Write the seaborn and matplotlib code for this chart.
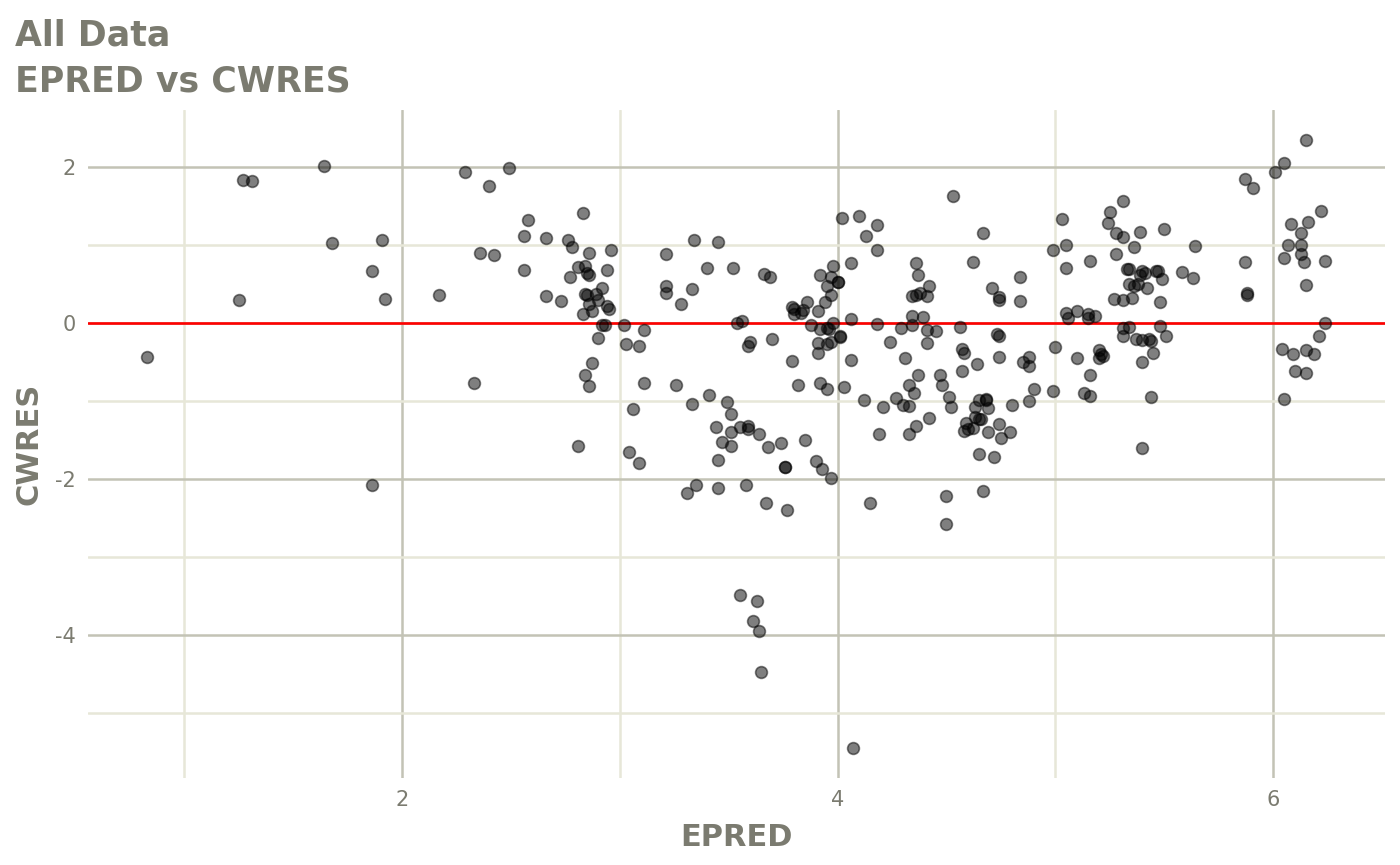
import matplotlib
matplotlib.use("Agg")
import matplotlib.pyplot as plt
import pandas as pd
import seaborn as sns
from matplotlib.ticker import MultipleLocator

# EPRED / CWRES values
epred = [
    0.83, 1.27, 1.31, 1.64, 1.68, 1.91, 1.86, 1.92, 1.25, 1.86,
    2.29, 2.49, 2.40, 2.83, 2.58, 2.56, 2.66, 2.76, 2.78, 2.86,
    2.96, 2.36, 2.42, 3.21, 2.56, 2.81, 2.84, 2.85, 2.86, 2.77,
    2.94, 2.17, 2.66, 2.73, 2.84, 2.85, 2.89, 2.92, 2.86, 2.90,
    2.94, 2.95, 2.83, 2.87, 3.21, 3.21, 3.28, 2.92, 2.93, 3.02,
    3.11, 2.90, 3.03, 3.09,
    2.33, 2.87, 2.84, 2.86, 3.11, 3.26, 3.41, 3.33, 3.06, 3.44,
    3.47, 3.45, 2.81, 3.04, 3.09, 3.35, 3.31, 3.45,
    3.34, 3.45, 3.40, 3.52, 3.66, 3.69, 3.33, 3.98, 4.06, 3.92,
    3.97, 4.00, 4.00, 3.95, 3.97, 3.94, 3.86, 3.79, 3.80, 3.84,
    3.83, 3.80, 3.91, 3.88, 3.92, 3.95, 3.96, 3.98, 4.01, 4.01,
    4.06, 3.91, 3.95, 3.97, 3.91, 4.06, 3.79, 3.54, 3.56, 3.59,
    3.60, 3.70, 3.49, 3.51, 3.82, 3.92, 3.95, 4.03, 4.12, 4.13,
    4.18, 4.10, 4.02, 4.18, 4.18, 4.21,
    3.55, 3.59, 3.59, 3.51, 3.51, 3.64, 3.68, 3.74, 3.85, 3.76,
    3.76, 3.90, 3.93, 3.97, 3.58, 3.67, 3.77, 4.19, 4.15,
    3.55, 3.63, 3.61, 3.64, 3.65, 4.07,
    4.53, 5.03, 4.67, 4.99, 5.05, 4.36, 4.62, 5.16, 5.05, 4.37,
    4.84, 4.42, 4.34, 4.36, 4.38, 4.41, 4.71, 4.74, 4.74, 4.84,
    4.34, 4.39, 4.29, 4.34, 4.41, 4.45, 4.56, 4.24, 4.41, 4.73,
    4.74, 4.57, 5.05, 5.06, 5.10, 5.15, 5.15, 5.18, 5.00,
    4.58, 4.74, 4.31, 4.64, 4.57, 4.85, 4.88, 4.88, 5.10, 5.16,
    4.37, 4.47, 4.48, 4.33, 4.35, 4.27, 4.30, 4.33, 4.51, 4.52,
    4.90, 4.99, 4.88, 4.80, 5.13, 5.16, 4.65, 4.68, 4.68, 4.69,
    4.63, 4.63, 4.65, 4.66, 4.59, 4.58, 4.60, 4.62, 4.42, 4.36,
    4.33, 4.69, 4.74, 4.79, 4.75, 4.65, 4.72, 4.50, 4.67, 4.50,
    5.31, 5.25, 5.24, 5.28, 5.31, 5.39, 5.50, 5.36, 5.64, 5.28,
    5.33, 5.34, 5.40, 5.41, 5.46, 5.47, 5.39, 5.58, 5.63, 5.49,
    5.34, 5.36, 5.38, 5.42, 5.27, 5.31, 5.35, 5.48, 5.31, 5.34,
    5.48, 5.31, 5.37, 5.40, 5.43, 5.44, 5.51, 5.20, 5.21, 5.22,
    5.20, 5.45, 5.40, 5.44, 5.40,
    6.15, 6.05, 6.01, 5.87, 5.91, 6.22, 6.08, 6.16, 6.13, 6.07,
    6.13, 6.13, 6.05, 6.14, 6.24, 5.87, 6.15, 5.88, 5.88, 6.24,
    6.21, 6.04, 6.09, 6.15, 6.19, 6.10, 6.15, 6.05,
]
cwres = [
    -0.44, 1.83, 1.82, 2.01, 1.02, 1.07, 0.67, 0.31, 0.29, -2.07,
    1.94, 1.99, 1.76, 1.41, 1.32, 1.12, 1.09, 1.06, 0.97, 0.90,
    0.93, 0.90, 0.87, 0.89, 0.68, 0.72, 0.73, 0.64, 0.62, 0.59,
    0.68, 0.36, 0.35, 0.28, 0.37, 0.36, 0.37, 0.45, 0.24, 0.29,
    0.22, 0.18, 0.11, 0.15, 0.48, 0.38, 0.25, -0.03, -0.03, -0.02,
    -0.09, -0.19, -0.27, -0.29,
    -0.77, -0.51, -0.66, -0.81, -0.77, -0.79, -0.92, -1.04, -1.10, -1.33,
    -1.52, -1.76, -1.58, -1.65, -1.79, -2.08, -2.18, -2.12,
    1.06, 1.04, 0.70, 0.71, 0.63, 0.59, 0.44, 0.73, 0.77, 0.62,
    0.59, 0.53, 0.52, 0.47, 0.36, 0.27, 0.27, 0.20, 0.18, 0.17,
    0.13, 0.12, 0.15, -0.02, -0.07, -0.06, -0.08, 0.00, -0.17, -0.18,
    0.05, -0.25, -0.27, -0.24, -0.39, -0.47, -0.49, 0.00, 0.02, -0.29,
    -0.24, -0.21, -1.01, -1.17, -0.80, -0.77, -0.84, -0.82, -0.99, 1.12,
    1.26, 1.37, 1.35, 0.94, -0.01, -1.08,
    -1.33, -1.32, -1.36, -1.40, -1.58, -1.42, -1.59, -1.54, -1.50, -1.84,
    -1.85, -1.77, -1.87, -1.98, -2.07, -2.31, -2.40, -1.42, -2.31,
    -3.49, -3.56, -3.82, -3.94, -4.47, -5.44,
    1.63, 1.33, 1.16, 0.94, 1.00, 0.77, 0.78, 0.79, 0.70, 0.62,
    0.59, 0.47, 0.35, 0.36, 0.39, 0.35, 0.45, 0.33, 0.29, 0.28,
    0.09, 0.08, -0.06, -0.03, -0.09, -0.10, -0.05, -0.24, -0.25, -0.14,
    -0.16, -0.33, 0.13, 0.07, 0.15, 0.11, 0.06, 0.09, -0.31,
    -0.39, -0.44, -0.45, -0.52, -0.61, -0.50, -0.44, -0.55, -0.45, -0.66,
    -0.66, -0.67, -0.80, -0.80, -0.89, -0.96, -1.05, -1.06, -0.95, -1.08,
    -0.85, -0.87, -1.00, -1.05, -0.89, -0.93, -0.99, -0.98, -0.97, -1.09,
    -1.07, -1.21, -1.23, -1.23, -1.28, -1.38, -1.36, -1.34, -1.22, -1.32,
    -1.42, -1.40, -1.29, -1.40, -1.47, -1.68, -1.72, -2.21, -2.15, -2.57,
    1.57, 1.42, 1.28, 1.16, 1.10, 1.17, 1.21, 0.98, 0.99, 0.89,
    0.69, 0.69, 0.67, 0.64, 0.67, 0.67, 0.62, 0.66, 0.58, 0.57,
    0.50, 0.47, 0.50, 0.45, 0.31, 0.29, 0.32, 0.27, -0.06, -0.05,
    -0.04, -0.17, -0.21, -0.22, -0.21, -0.23, -0.17, -0.35, -0.40, -0.42,
    -0.45, -0.39, -0.50, -0.95, -1.60,
    2.35, 2.05, 1.93, 1.84, 1.73, 1.43, 1.27, 1.29, 1.15, 1.00,
    1.00, 0.88, 0.84, 0.78, 0.80, 0.78, 0.49, 0.36, 0.38, 0.00,
    -0.16, -0.33, -0.40, -0.34, -0.40, -0.61, -0.64, -0.97,
]

df = pd.DataFrame({"EPRED": epred, "CWRES": cwres})

text_col = "#7b7b70"

sns.set_style("white")
plt.rcParams["font.family"] = ["DejaVu Sans"]
plt.rcParams["axes.unicode_minus"] = False

fig = plt.figure(figsize=(14, 8.65), dpi=100)
ax = fig.add_axes([0.0629, 0.1006, 0.9264, 0.7722])

sns.scatterplot(data=df, x="EPRED", y="CWRES", color="black", alpha=0.5,
                s=72, edgecolor="black", linewidth=1.2, ax=ax, zorder=3)
ax.axhline(0, color="red", lw=1.9, zorder=2)

ax.set_xlim(0.558, 6.514)
ax.set_ylim(-5.83, 2.73)
ax.xaxis.set_major_locator(MultipleLocator(2))
ax.xaxis.set_minor_locator(MultipleLocator(1))
ax.yaxis.set_major_locator(MultipleLocator(2))
ax.yaxis.set_minor_locator(MultipleLocator(1))
ax.set_axisbelow(True)
ax.grid(which="major", color="#c3c3b5", lw=1.8)
ax.grid(which="minor", color="#e7e7d8", lw=1.8)
for s in ax.spines.values():
    s.set_visible(False)
ax.tick_params(which="major", length=5, width=1.5, color="#7f7f74",
               labelsize=15, labelcolor=text_col, pad=4)
ax.tick_params(which="minor", length=0)

ax.set_xlabel("EPRED", fontsize=22, fontweight="bold", color=text_col, labelpad=9)
ax.set_ylabel("CWRES", fontsize=22, fontweight="bold", color=text_col, labelpad=8)

fig.text(15 / 1400, 1 - 45 / 865, "All Data", fontsize=25, fontweight="bold",
         color=text_col, va="baseline", ha="left")
fig.text(15 / 1400, 1 - 92 / 865, "EPRED vs CWRES", fontsize=25, fontweight="bold",
         color=text_col, va="baseline", ha="left")

fig.savefig("out.png", dpi=100)
